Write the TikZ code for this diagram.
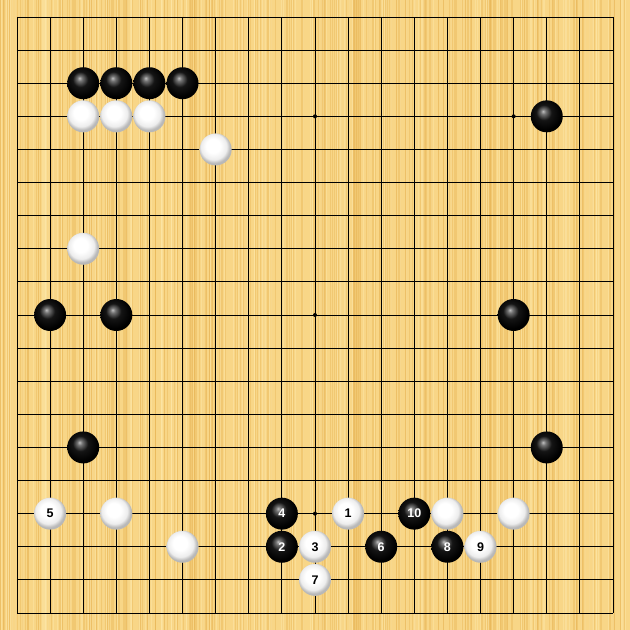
\documentclass[tikz,border=0pt]{standalone}
\usepackage{fontspec}
\setsansfont{Liberation Sans}
\usepackage{xcolor}
\usepackage{tikz}
\usetikzlibrary{positioning,shapes,calc}
\definecolor{wood}{HTML}{F8D687}
\definecolor{woodgrain}{HTML}{E9B85A}
\definecolor{woodlight}{HTML}{FDE6A8}
\pgfdeclareradialshading{blackstone}{\pgfpoint{-6bp}{8bp}}{color(0bp)=(black!25); color(4bp)=(black!55); color(12bp)=(black!92); color(25bp)=(black); color(50bp)=(black)}
\pgfdeclareradialshading{whitestone}{\pgfpoint{-5bp}{7bp}}{color(0bp)=(white); color(11bp)=(white); color(20bp)=(black!7); color(25bp)=(black!28); color(50bp)=(black!28)}
\tikzset{
  gridline/.style = {line width = .9pt, black},
  bstone/.style = {circle, minimum size = 32pt, inner sep = 0pt, shading = blackstone, text = white, font = \sffamily\bfseries\fontsize{12.5}{12.5}\selectfont},
  wstone/.style = {circle, minimum size = 32pt, inner sep = 0pt, shading = whitestone, text = black, font = \sffamily\bfseries\fontsize{12.5}{12.5}\selectfont},
  hoshi/.style = {circle, fill = black, minimum size = 4pt, inner sep = 0pt}
}

\begin{document}
\begin{tikzpicture}[x = 33.11pt, y = -33.11pt]
    % board
    \fill[wood] (-.5134,-.5134) rectangle (18.514,18.514);
    \useasboundingbox (-.5134,-.5134) rectangle (18.514,18.514);
    \pgfmathsetseed{11}
    \foreach \i in {1,...,320} {
        \pgfmathsetmacro\xx{rnd*19.02-.51}
        \pgfmathsetmacro\ww{.3+rnd*1.0}
        \draw[woodgrain, opacity = .45, line width = \ww pt] (\xx,-.5134) -- (\xx,18.514);
    }
    \foreach \i in {1,...,160} {
        \pgfmathsetmacro\xx{rnd*19.02-.51}
        \draw[woodlight, opacity = .5, line width = .8pt] (\xx,-.5134) -- (\xx,18.514);
    }
    \foreach \i in {0,...,18} {
        \draw[gridline] (\i,0) -- (\i,18);
        \draw[gridline] (0,\i) -- (18,\i);
    }
    \foreach \c/\r [count = \k] in {3/3,9/3,15/3,3/9,9/9,15/9,3/15,9/15,15/15}
        \node[hoshi] (star\k) at (\c,\r) {};
    % black stones
    \foreach \c/\r [count = \k] in {2/2,3/2,4/2,5/2,16/3,1/9,3/9,15/9,2/13,16/13}
        \node[bstone] (b\k) at (\c,\r) {};
    % white stones
    \foreach \c/\r [count = \k] in {2/3,3/3,4/3,6/4,2/7,3/15,5/16,13/15,15/15}
        \node[wstone] (w\k) at (\c,\r) {};
    % numbered moves
    \node[wstone] (m1) at (10,15) {1};
    \node[bstone] (m2) at (8,16) {2};
    \node[wstone] (m3) at (9,16) {3};
    \node[bstone] (m4) at (8,15) {4};
    \node[wstone] (m5) at (1,15) {5};
    \node[bstone] (m6) at (11,16) {6};
    \node[wstone] (m7) at (9,17) {7};
    \node[bstone] (m8) at (13,16) {8};
    \node[wstone] (m9) at (14,16) {9};
    \node[bstone] (m10) at (12,15) {10};
\end{tikzpicture}
\end{document}
